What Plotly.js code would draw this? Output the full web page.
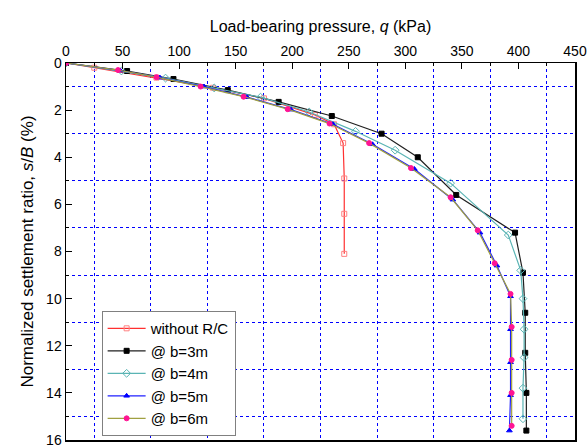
<!DOCTYPE html>
<html><head><meta charset="utf-8">
<script src="https://cdn.plot.ly/plotly-3.0.1.min.js"></script>
<style>html,body{margin:0;padding:0;background:#fff}#c{width:587px;height:448px}</style>
</head><body><div id="c"></div>
<script>
const seriesNames = ["without R/C", "@ b=3m", "@ b=4m", "@ b=5m", "@ b=6m"];
const qNoRC = [0, 25, 80, 130, 175, 220, 237, 245, 246, 246, 246];
const sNoRC = [0, 0.2, 0.62, 1.05, 1.5, 2.2, 2.6, 3.4, 4.9, 6.4, 8.1];
const qB3 = [0, 54, 95, 143, 188, 235, 279, 311, 345, 397, 404, 406, 406, 407, 407];
const sB3 = [0, 0.34, 0.68, 1.15, 1.65, 2.25, 3.0, 4.0, 5.6, 7.2, 8.9, 10.6, 12.3, 14.0, 15.6];
const qB4 = [0, 49, 88, 131, 172, 215, 256, 291, 340, 391, 402, 404, 405, 405, 404, 404];
const sB4 = [0, 0.34, 0.64, 1.06, 1.45, 2.08, 2.9, 3.7, 5.1, 7.3, 8.8, 10.0, 11.3, 12.5, 13.8, 15.1];
const qB5 = [0, 48, 83, 122, 160, 199, 236, 271, 308, 342, 366, 381, 393, 393, 393, 393, 392];
const sB5 = [0, 0.32, 0.62, 1.0, 1.45, 1.98, 2.6, 3.45, 4.5, 5.8, 7.2, 8.6, 9.9, 11.3, 12.7, 14.1, 15.6];
const qB6 = [0, 46, 80, 119, 157, 196, 233, 268, 305, 340, 364, 379, 393, 394, 394, 394, 394];
const sB6 = [0, 0.3, 0.6, 1.0, 1.43, 1.96, 2.57, 3.4, 4.46, 5.7, 7.1, 8.5, 9.8, 11.2, 12.6, 14.0, 15.4];
const xTicks = [0, 50, 100, 150, 200, 250, 300, 350, 400, 450];
const yTicks = [0, 2, 4, 6, 8, 10, 12, 14, 16];

const mk = (x, y, name, lineColor, sym, mColor, mSize) => ({
  x: x, y: y, name: name, type: 'scatter', mode: 'lines+markers',
  line: {color: lineColor, width: 1.2},
  marker: {symbol: sym, color: mColor, size: mSize, line: {color: mColor, width: 1}}
});
const data = [
  mk(qNoRC, sNoRC, seriesNames[0], '#ff3030', 'square-open', '#ff8080', 5),
  mk(qB3, sB3, seriesNames[1], '#202020', 'square', '#000000', 5),
  mk(qB4, sB4, seriesNames[2], '#5ab4b4', 'diamond-open', '#5ab4b4', 6),
  mk(qB5, sB5, seriesNames[3], '#2020ff', 'triangle-up', '#0000ff', 5),
  mk(qB6, sB6, seriesNames[4], '#a0a040', 'circle', '#ff1493', 5)
];
const grid = {showgrid: true, gridcolor: '#0000ff', griddash: 'dot', gridwidth: 1};
const layout = {
  width: 587, height: 448,
  margin: {l: 66, r: 12, t: 63, b: 8},
  paper_bgcolor: '#fff', plot_bgcolor: '#fff',
  font: {family: 'Liberation Sans, Arial, sans-serif', size: 14, color: '#000'},
  showlegend: true,
  legend: {x: 0.07, y: 0.342, xanchor: 'left', yanchor: 'top', bgcolor: '#fff',
           bordercolor: '#808080', borderwidth: 1, font: {size: 15}, tracegroupgap: 0, itemwidth: 38},
  xaxis: {
    side: 'top', range: [0, 450], tickvals: xTicks, ticktext: xTicks.map(String),
    ticks: 'inside', ticklen: 6, tickcolor: '#000', showline: true, linecolor: '#000', linewidth: 1.5,
    mirror: true, zeroline: false, showgrid: false,
    minor: Object.assign({tick0: 25, dtick: 50, ticks: 'inside', ticklen: 3, tickcolor: '#000'}, grid),
    title: {text: 'Load-bearing pressure, <i>q</i> (kPa)', font: {size: 16}, standoff: 6}
  },
  yaxis: {
    range: [16, 0], tickvals: yTicks, ticktext: yTicks.map(String),
    ticks: 'inside', ticklen: 6, tickcolor: '#000', showline: true, linecolor: '#000', linewidth: 1.5,
    mirror: true, zeroline: false, showgrid: false,
    minor: Object.assign({tick0: 1, dtick: 2, ticks: 'inside', ticklen: 3, tickcolor: '#000'}, grid),
    title: {text: 'Normalized settlement ratio, <i>s</i>/<i>B</i> (%)', font: {size: 17}, standoff: 8}
  }
};
Plotly.newPlot('c', data, layout, {displayModeBar: false, staticPlot: true});
</script></body></html>
